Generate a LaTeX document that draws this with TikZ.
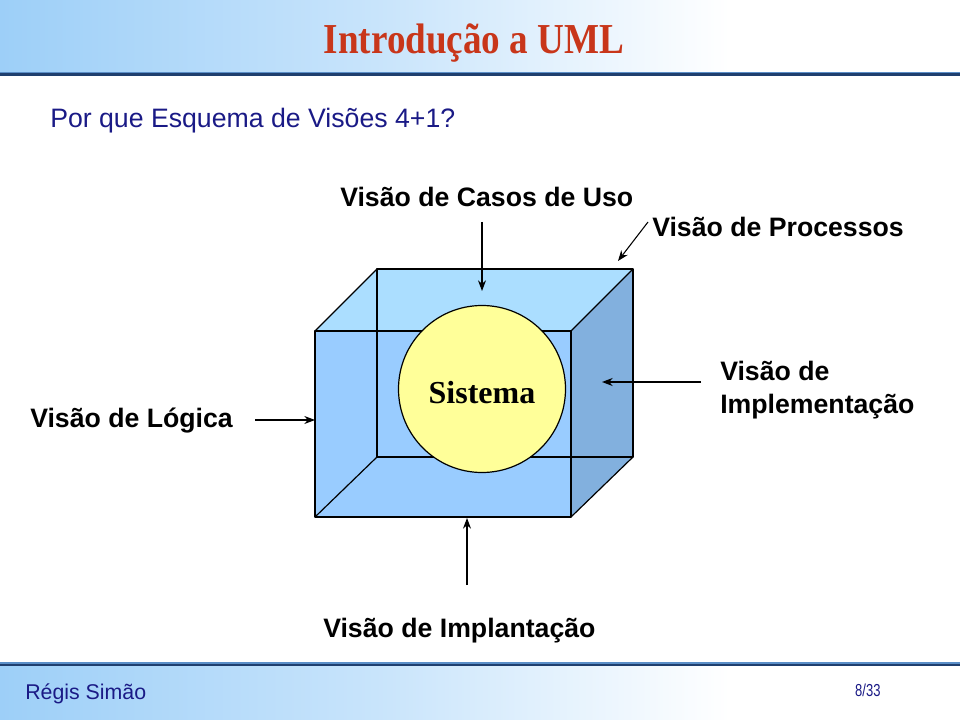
\documentclass[tikz,border=0pt]{standalone}
\usepackage{fontspec}
\setmainfont{Liberation Serif}
\setsansfont{Liberation Sans}
\usetikzlibrary{arrows.meta}
\definecolor{hdrblue}{HTML}{9DCFF8}
\definecolor{navy}{HTML}{1A1A86}
\definecolor{linedark}{HTML}{1F3F6E}
\definecolor{linemid}{HTML}{5B8FC8}
\definecolor{titlered}{HTML}{C8361A}
\definecolor{frontc}{HTML}{99CCFF}
\definecolor{topc}{HTML}{ABDEFF}
\definecolor{rightc}{HTML}{82B0DE}
\definecolor{sunc}{HTML}{FFFF99}
\pgfdeclarehorizontalshading{bandfade}{100bp}{
  color(0bp)=(hdrblue); color(25bp)=(hdrblue); color(45bp)=(hdrblue!55);
  color(63bp)=(white); color(100bp)=(white)}
\tikzset{
  lbl/.style={inner sep=0pt, anchor=base west, font=\sffamily\bfseries\fontsize{20}{24}\selectfont},
  edge/.style={draw=black, line width=0.9pt, line join=round},
  ptr/.style={line width=0.8pt, -{Stealth[length=8pt,width=6pt]}},
}
\begin{document}
\begin{tikzpicture}[x=0.75pt,y=-0.75pt]
\useasboundingbox (0,0) rectangle (960,720);
% header band
\shade[shading=bandfade] (0,0) rectangle (960,72);
\fill[linemid] (0,72) rectangle (960,73.5);
\fill[linedark] (0,73.5) rectangle (960,76);
% footer band
\fill[linemid] (0,662) rectangle (960,663.5);
\fill[linedark] (0,663.5) rectangle (960,666);
\shade[shading=bandfade] (0,666) rectangle (960,720);
% title
\node[inner sep=0pt, anchor=base, text=titlered, font=\bfseries\fontsize{32}{36}\selectfont, xscale=0.87] (title) at (474,54) {Introdução a UML};
\node[inner sep=0pt, anchor=base west, text=navy, font=\sffamily\fontsize{20}{24}\selectfont] (q) at (50,128) {Por que Esquema de Visões 4+1?};
% cube coordinates
\coordinate (fa) at (315,331);
\coordinate (fb) at (571,331);
\coordinate (fc) at (571,517);
\coordinate (fd) at (315,517);
\coordinate (ba) at (377,269);
\coordinate (bb) at (633,269);
\coordinate (bc) at (633,457);
\coordinate (bd) at (377,457);
% faces
\fill[frontc] (fa) rectangle (fc);
\fill[topc] (fa) -- (ba) -- (bb) -- (fb) -- cycle;
\fill[rightc] (fb) -- (bb) -- (bc) -- (fc) -- cycle;
% edges
\draw[edge] (bd) -- (ba) -- (bb) -- (bc) -- (bd);
\draw[edge] (fa) -- (ba) (fb) -- (bb) (fc) -- (bc) (fd) -- (bd);
\draw[edge] (fa) rectangle (fc);
% sphere
\node[circle, draw=black, line width=0.9pt, fill=sunc, minimum size=167pt*0.75, inner sep=0pt] (sys) at (482,389) {};
\node[inner sep=0pt, anchor=base, font=\bfseries\fontsize{24}{28}\selectfont] (syslbl) at (482,403) {Sistema};
% labels
\node[lbl] (casos) at (340,207) {Visão de Casos de Uso};
\node[lbl] (proc) at (652,237) {Visão de Processos};
\node[lbl] (logica) at (30,427) {Visão de Lógica};
\node[lbl] (impl1) at (720,380) {Visão de};
\node[lbl] (impl2) at (720,413) {Implementação};
\node[lbl] (implan) at (323,637) {Visão de Implantação};
% arrows
\coordinate (a1s) at (482,222); \coordinate (a1e) at (482,291);
\coordinate (a2s) at (648,222); \coordinate (a2e) at (618,261);
\coordinate (a3s) at (255,420); \coordinate (a3e) at (315,420);
\coordinate (a4s) at (701,382); \coordinate (a4e) at (602,382);
\coordinate (a5s) at (467,585); \coordinate (a5e) at (467,518);
\draw[ptr] (a1s) -- (a1e);
\draw[ptr] (a2s) -- (a2e);
\draw[ptr] (a3s) -- (a3e);
\draw[ptr] (a4s) -- (a4e);
\draw[ptr] (a5s) -- (a5e);
% footer texts
\node[inner sep=0pt, anchor=base west, text=navy, font=\sffamily\fontsize{16}{19}\selectfont] (author) at (25,699) {Régis Simão};
\node[inner sep=0pt, anchor=base west, text=navy, font=\sffamily\fontsize{13}{15}\selectfont, xscale=0.75] (page) at (855,696) {8/33};
\end{tikzpicture}
\end{document}
